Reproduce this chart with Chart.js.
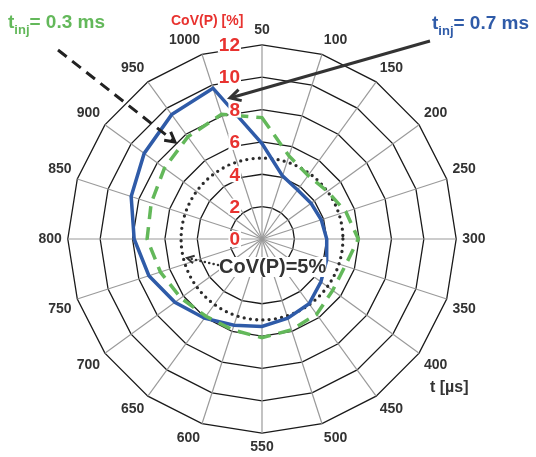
<!DOCTYPE html>
<html>
<head>
<meta charset="utf-8">
<script src="https://cdn.jsdelivr.net/npm/chart.js@4"></script>
<style>
  body { margin: 0; background: #fff; }
</style>
</head>
<body>
<canvas id="myChart" width="536" height="457"></canvas>
<script>
// injection timing t [µs], clockwise from the top
const times = ['50', '100', '150', '200', '250', '300', '350', '400', '450', '500',
    '550', '600', '650', '700', '750', '800', '850', '900', '950', '1000']

// CoV(P) [%] for each timing
const cov03 = [7.5, 5.4, 4.85, 5.0, 5.45, 5.95, 5.4, 5.4, 5.75, 5.9,
    6.1, 5.9, 5.9, 6.2, 6.6, 7.1, 7.2, 7.45, 7.8, 8.1]
const cov07 = [5.9, 4.1, 3.75, 3.75, 3.85, 4.0, 4.2, 4.5, 4.95, 5.15,
    5.4, 5.6, 6.05, 6.65, 7.35, 7.9, 8.5, 9.0, 9.5, 9.8]

const covTicks = [0, 2, 4, 6, 8, 10, 12]
const covLimit = 5

const FONT = "'Liberation Sans', Arial, sans-serif"
const GREEN = '#63b85a'
const BLUE = '#2f5ba8'
const RED = '#e8322f'

function arrow(ctx, x1, y1, x2, y2, opts) {
    const a = Math.atan2(y2 - y1, x2 - x1)
    ctx.save()
    ctx.strokeStyle = opts.color
    ctx.lineWidth = opts.width
    ctx.setLineDash(opts.dash || [])
    ctx.lineCap = opts.cap || 'butt'
    ctx.beginPath()
    ctx.moveTo(x1, y1)
    ctx.lineTo(x2 - Math.cos(a) * 2, y2 - Math.sin(a) * 2)
    ctx.stroke()
    ctx.setLineDash([])
    ctx.lineCap = 'butt'
    ctx.lineJoin = 'miter'
    ctx.lineWidth = opts.headWidth || opts.width
    const h = opts.head
    ctx.beginPath()
    ctx.moveTo(x2 - h * Math.cos(a - 0.5), y2 - h * Math.sin(a - 0.5))
    ctx.lineTo(x2, y2)
    ctx.lineTo(x2 - h * Math.cos(a + 0.5), y2 - h * Math.sin(a + 0.5))
    ctx.stroke()
    ctx.restore()
}

function tinj(ctx, x, y, value, color) {
    ctx.save()
    ctx.fillStyle = color
    ctx.textBaseline = 'alphabetic'
    ctx.textAlign = 'left'
    ctx.font = 'bold 19px ' + FONT
    ctx.fillText('t', x, y)
    let w = ctx.measureText('t').width
    ctx.font = 'bold 13px ' + FONT
    ctx.fillText('inj', x + w, y + 6)
    w += ctx.measureText('inj').width
    ctx.font = 'bold 19px ' + FONT
    ctx.fillText('= ' + value, x + w, y)
    ctx.restore()
}

const overlay = {
    id: 'overlay',
    beforeDatasetsDraw(chart) {
        const r = chart.scales.r
        const ctx = chart.ctx
        ctx.save()
        ctx.beginPath()
        ctx.arc(r.xCenter, r.yCenter, r.getDistanceFromCenterForValue(covLimit), 0, Math.PI * 2)
        ctx.setLineDash([0, 6.3])
        ctx.lineCap = 'round'
        ctx.lineWidth = 3.3
        ctx.strokeStyle = '#2b2b2b'
        ctx.stroke()
        ctx.restore()
    },
    afterDatasetsDraw(chart) {
        const r = chart.scales.r
        const ctx = chart.ctx
        ctx.save()

        // red radial tick labels, left of the vertical spoke
        ctx.font = 'bold 19px ' + FONT
        ctx.textAlign = 'right'
        ctx.textBaseline = 'middle'
        covTicks.forEach((v) => {
            const y = r.yCenter - r.getDistanceFromCenterForValue(v)
            const x = r.xCenter - 22
            const w = ctx.measureText(String(v)).width
            ctx.fillStyle = '#fff'
            ctx.fillRect(x - w - 1, y - 8, w + 2, 16)
            ctx.fillStyle = RED
            ctx.fillText(String(v), x, y + 1)
        })

        ctx.font = 'bold 14px ' + FONT
        ctx.textAlign = 'left'
        ctx.fillText('CoV(P) [%]', 171, 21)

        // CoV(P)=5% note
        ctx.font = 'bold 20px ' + FONT
        const noteW = ctx.measureText('CoV(P)=5%').width
        ctx.fillStyle = '#fff'
        ctx.fillRect(219, 257, noteW, 20)
        ctx.fillStyle = '#333'
        ctx.textBaseline = 'middle'
        ctx.fillText('CoV(P)=5%', 219, 267)

        ctx.font = 'bold 16px ' + FONT
        ctx.fillText('t [\u00b5s]', 430, 388)

        tinj(ctx, 8, 28, '0.3 ms', GREEN)
        tinj(ctx, 432, 29, '0.7 ms', BLUE)

        arrow(ctx, 58, 50, 175, 142, { color: '#222', width: 3, dash: [11, 7], head: 11 })
        arrow(ctx, 430, 41, 230, 98, { color: '#333', width: 3, head: 12 })
        arrow(ctx, 218, 265, 187, 258, { color: '#333', width: 2.6, dash: [0, 4.5], cap: 'round', head: 8, headWidth: 2 })
        ctx.restore()
    }
}

const chart = new Chart(document.querySelector('#myChart'), {
    type: 'radar',
    data: {
        labels: times,
        datasets: [
            {
                label: 't_inj = 0.3 ms',
                data: cov03,
                borderColor: GREEN,
                borderWidth: 3.5,
                borderDash: [13, 8],
                pointRadius: 0,
                fill: false
            },
            {
                label: 't_inj = 0.7 ms',
                data: cov07,
                borderColor: BLUE,
                borderWidth: 3.5,
                pointRadius: 0,
                fill: false
            }
        ]
    },
    options: {
        responsive: false,
        animation: false,
        layout: { padding: { top: 22, bottom: 0, left: 0, right: 12 } },
        plugins: { legend: { display: false }, tooltip: { enabled: false } },
        scales: {
            r: {
                min: 0,
                max: 12,
                ticks: { stepSize: 2, display: false },
                grid: { color: '#1a1a1a', lineWidth: 1.3 },
                angleLines: { color: '#9a9a9a', lineWidth: 1.2 },
                pointLabels: {
                    color: '#333',
                    padding: 6,
                    font: { family: FONT, size: 14, weight: 'bold' }
                }
            }
        }
    },
    plugins: [overlay]
})
</script>
</body>
</html>
